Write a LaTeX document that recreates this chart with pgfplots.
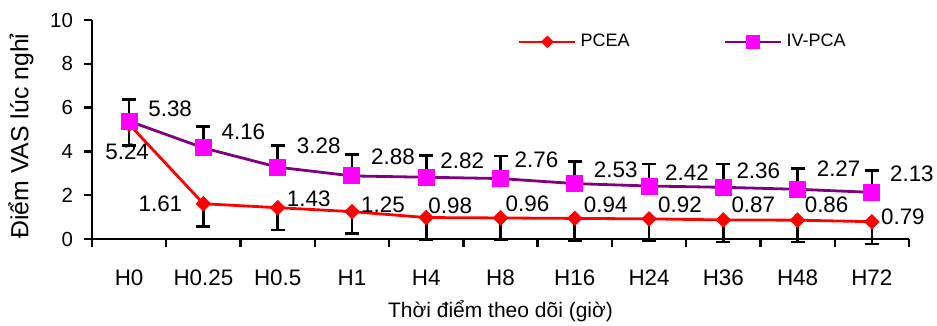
\documentclass[border=0pt]{standalone}
\usepackage{fontspec}
\setmainfont{Liberation Sans}
\usepackage{pgfplots}
\pgfplotsset{compat=1.18}
\usepackage{pgfplotstable}
\definecolor{pcea}{RGB}{255,0,0}
\definecolor{ivline}{RGB}{128,0,128}
\definecolor{ivmark}{RGB}{255,0,255}

\pgfplotstableread{
x y err dx dy lab
0 5.24 0.98 -1 -14 5.24
1 1.61 1.03 -21.5 0 1.61
2 1.43 1.02 15.5 4.5 1.43
3 1.25 0.99 15.5 3.5 1.25
4 0.98 1.00 12 6 0.98
5 0.96 1.00 13.5 7 0.96
6 0.94 1.02 15.5 7 0.94
7 0.92 1.00 15.5 7 0.92
8 0.87 1.00 15 7.5 0.87
9 0.86 1.00 14.5 7.5 0.86
10 0.79 1.02 15.5 2.5 0.79
}\pceatab

\pgfplotstableread{
x y err dx dy lab
0 5.38 1.00 20.5 6 5.38
1 4.16 0.97 20 8 4.16
2 3.28 0.98 20.5 10.5 3.28
3 2.88 0.99 20.5 9.5 2.88
4 2.82 0.98 18 8 2.82
5 2.76 1.03 18 9.5 2.76
6 2.53 1.00 20.5 7 2.53
7 2.42 1.00 19 6.5 2.42
8 2.36 1.06 17.5 8.5 2.36
9 2.27 0.94 20.5 10.5 2.27
10 2.13 0.99 20 9.5 2.13
}\ivtab

\begin{document}
\begin{tikzpicture}
\useasboundingbox (-46pt,-43.5pt) rectangle (422.5pt,119.5pt);
\begin{axis}[
  at={(0,0)}, anchor=south west,
  scale only axis, width=408.5pt, height=109.5pt,
  xmin=-0.5, xmax=10.5, ymin=0, ymax=10,
  clip=false,
  axis x line*=bottom, axis y line*=left,
  axis line style={black, line width=1.3pt, -},
  xtick={-0.5,0.5,1.5,2.5,3.5,4.5,5.5,6.5,7.5,8.5,9.5,10.5},
  x tick label as interval,
  xticklabels={H0,H0.25,H0.5,H1,H4,H8,H16,H24,H36,H48,H72},
  ytick={0,2,4,6,8,10},
  tick align=outside,
  major tick length=4pt,
  tick style={black, line width=1.2pt},
  /pgf/number format/assume math mode=true,
  xticklabel style={yshift=-8pt, font=\fontsize{11.2}{13}\selectfont},
  yticklabel style={xshift=-2pt, font=\fontsize{10.2}{12}\selectfont},
  xlabel={Thời điểm theo dõi (giờ)},
  ylabel={Điểm VAS lúc nghỉ},
  xlabel style={at={([yshift=-39.5pt]axis description cs:0.5,0)}, anchor=base, font=\fontsize{10.5}{12}\selectfont},
  ylabel style={at={([xshift=-35.5pt]axis description cs:0,0.47)}, anchor=center, rotate=0, font=\fontsize{12.4}{14}\selectfont},
  legend style={draw=none, fill=none, at={(rel axis cs:0.5135,0.9)}, anchor=west,
    legend columns=2, font=\fontsize{9}{11}\selectfont,
    /tikz/every even column/.append style={column sep=45pt}},
  legend cell align=left,
  legend image code/.code={\draw[mark repeat=2,mark phase=2,#1, every mark/.append style={scale=0.8}] plot coordinates {(0pt,0pt) (14pt,0pt) (28pt,0pt)};},
  nodes near coords={\pgfplotspointmeta},
  point meta=explicit symbolic,
  visualization depends on={\thisrow{dx} \as \myDX},
  visualization depends on={\thisrow{dy} \as \myDY},
  every node near coord/.append style={black, anchor=center, xshift=\myDX pt, yshift=\myDY pt, font=\fontsize{11.2}{13}\selectfont},
]
\addplot[pcea, line width=1.4pt, mark=square*, mark size=2.5pt, mark options={rotate=45, fill=pcea, draw=pcea, line width=0.5pt},
  error bars/.cd, y dir=minus, y explicit,
  error bar style={black, line width=1.3pt},
  error mark options={rotate=90, black, mark size=3.5pt, line width=1.3pt}]
  table[x=x, y=y, y error=err, meta=lab] {\pceatab};
\addlegendentry{PCEA}
\addplot[ivline, line width=1.4pt, mark=square*, mark size=4pt, mark options={fill=ivmark, draw=ivmark, line width=0.5pt},
  error bars/.cd, y dir=plus, y explicit,
  error bar style={black, line width=1.3pt},
  error mark options={rotate=90, black, mark size=3.5pt, line width=1.3pt}]
  table[x=x, y=y, y error=err, meta=lab] {\ivtab};
\addlegendentry{IV-PCA}
\end{axis}
\end{tikzpicture}
\end{document}
